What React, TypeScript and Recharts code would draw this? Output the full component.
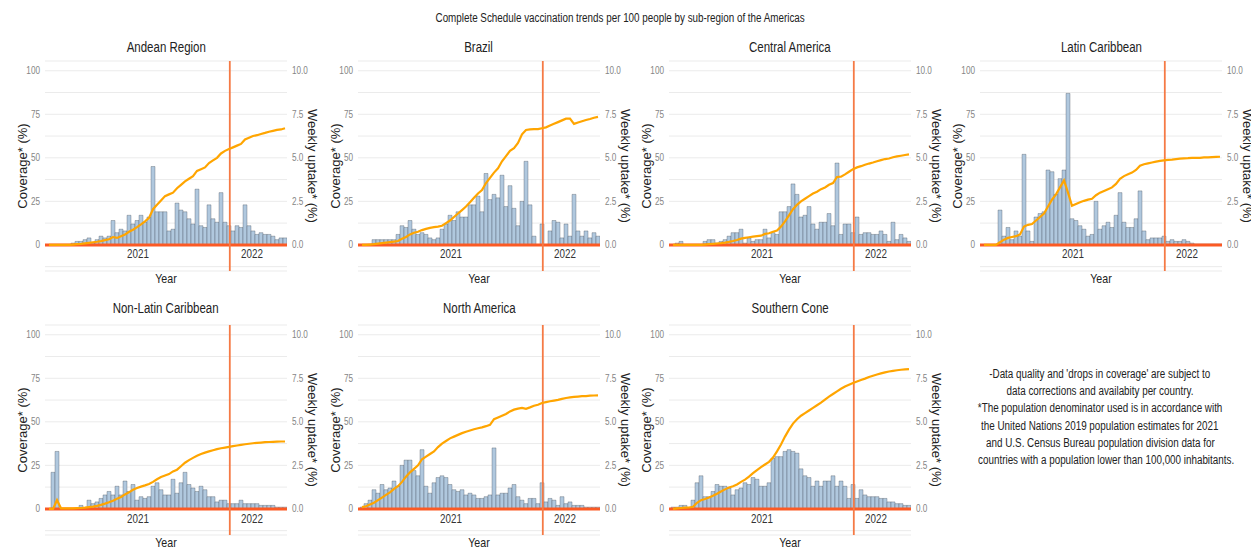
import React from 'react';
import { ComposedChart, Bar, Line, XAxis, YAxis, CartesianGrid, ReferenceLine, Label } from 'recharts';

// ---------- data (weekly index 0..59) ----------
const ANDEAN_UPTAKE = [0,0,0,0,0,0,0.1,0.2,0.2,0.3, 0.4,0.1,0.3,0.5,0.4,0.5,1.4,0.7,0.9,0.8, 1.7,1.2,1.4,1.7,1.3,1.6,4.5,1.9,1.9,1.9, 0.8,0.9,2.4,2.0,1.9,1.5,1.2,3.2,1.1,1.0, 2.3,1.5,1.3,3.0,1.3,1.1,0.8,1.1,1.0,2.3, 1.1,0.8,0.6,0.7,0.6,0.6,0.5,0.3,0.4,0.4];
const ANDEAN_COVERAGE = [0,0,0,0,0,0,0.2,0.4,0.6,0.9, 1.2,1.5,1.8,2.2,2.7,3.2,4.5,4.0,5.0,6.0, 7.5,8.7,10.2,11.8,13.5,15.5,20.5,23,25.5,28, 29,30,32.5,34.5,36.5,38,39.5,42.5,43.5,44.5, 47,48.5,50,52.5,54,55,56,57,58,60.5, 61.5,62.5,63,63.7,64.3,65,65.5,66,66.3,67];

const BRAZIL_UPTAKE = [0,0,0,0.3,0.3,0.3,0.3,0.3,0.3,0.6, 1.1,1.0,1.4,0.9,0.6,0.7,0.6,0.4,0.3,0.4, 0.9,1.2,1.7,1.4,1.9,1.6,1.6,2.3,2.3,2.8, 1.9,4.1,2.6,2.9,2.7,4.0,2.2,3.4,2.1,1.1, 2.5,4.8,2.3,0.5,0,1.2,0,0.8,1.4,1.3, 0.4,1.2,0.5,2.9,0.8,0.5,0.8,0.4,0.7,0.5];
const BRAZIL_COVERAGE = [0,0,0.2,0.4,0.7,1.0,1.3,1.6,1.9,2.2, 3.5,4.5,6,7,7.5,8.5,9.2,9.8,10.2,10.5, 11,12.5,14,16,18,20,22,24.5,27,29.5, 31.5,35.5,38.5,41.5,44,48,51,54,55.5,58.5, 63.5,66,66.3,66.5,66.5,67,67.5,68.5,69.5,70.5, 71.5,72.5,72.5,69.5,70.3,71,71.7,72.3,73,73.5];

const CENTRAL_UPTAKE = [0,0.1,0.2,0,0,0,0,0,0.2,0.3, 0.3,0.1,0.2,0.3,0.5,0.7,0.7,0.9,0.1,0.4, 0.2,0.3,0.3,0.9,0.4,0.7,0.6,1.9,1.9,2.2, 3.5,2.9,1.6,1.7,2.2,1.2,0.9,1.3,1.3,1.8, 1.1,4.7,0.6,1.2,1.2,0.7,1.6,0.6,0.7,0.7, 0.6,0.6,0.8,0.6,0.2,1.3,0.3,0.6,0.4,0.2];
const CENTRAL_COVERAGE = [0,0,0,0,0,0,0,0,0.2,0.4, 0.6,0.8,1.0,1.3,1.7,2.2,2.8,3.6,4.0,4.4, 4.7,5.0,5.3,6.3,6.7,7.5,8.3,10.5,13.5,17, 20.5,23,25,26.5,28,29.5,30.5,32,33,34.5, 35.5,39,39.2,40.5,42,43.5,44.5,45.2,46,46.7, 47.3,48,48.7,49.3,49.6,50.3,50.8,51.2,51.6,52];

const LATIN_UPTAKE = [0,0,0,0,2.0,0.5,1.0,0.3,0.8,0.5, 5.2,0.8,0.2,1.6,1.8,1.9,4.3,4.2,2.9,3.8, 4.3,8.7,1.5,1.4,1.1,0.9,0.5,0.6,2.5,0.9, 1.1,1.3,1.0,1.7,3.0,1.3,1.0,1.0,1.5,3.1, 0.8,0.3,0.4,0.4,0.4,0.5,0.2,0.3,0.2,0.2, 0.3,0.2,0.1,0.05,0.05,0.05,0.05,0.05,0.05,0.05];
const LATIN_COVERAGE = [0,0,0,0,1.5,3,4,4.5,5,6, 10.5,11.5,12,14,16,18,22,26,29,33, 37,30,22.5,23.5,24.5,25.3,26,26.5,28.5,30, 31,32,33,35,38,39.5,40.5,41.5,43,45.5, 46.3,46.8,47.3,47.8,48.2,48.5,48.8,49,49.3,49.5, 49.7,49.8,50,50,50,50.2,50.3,50.4,50.5,50.6];

const NONLATIN_UPTAKE = [0,2.1,3.3,0,0,0,0,0,0.2,0, 0.5,0.3,0.4,0.6,0.8,1.0,0.8,1.3,0.8,1.6, 1.0,1.4,0.5,0.7,0.6,0.7,1.3,1.5,1.1,0.8, 0.8,1.7,0.9,1.5,2.1,1.4,1.2,1.0,1.3,1.1, 0.7,0.7,0.4,0.5,0.5,0.3,0.3,0.3,0.5,0.3, 0.3,0.3,0.3,0.2,0.2,0.2,0.2,0.1,0.1,0.1];
const NONLATIN_COVERAGE = [0,0,5,0.3,0.3,0.3,0.3,0.4,0.5,0.7, 1.0,1.3,1.7,2.3,3.0,3.8,4.7,5.8,6.8,8.3, 9.5,11,12,12.8,13.5,14.3,15.5,17,18.3,19.2, 20,21.5,22.5,24.5,26.5,28,29.3,30.5,31.5,32.3, 33,33.7,34.3,34.8,35.2,35.6,36,36.4,36.8,37.1, 37.4,37.7,37.9,38.1,38.3,38.4,38.5,38.6,38.7,38.7];

const NORTH_UPTAKE = [0.1,0.3,0.5,1.1,0.9,1.4,1.1,1.2,1.6,1.3, 2.5,2.8,2.8,2.2,1.9,3.4,1.3,0.9,1.5,1.8, 1.9,1.8,1.4,1.1,1.0,1.1,0.8,0.9,0.8,0.6, 0.6,0.7,0.8,3.5,0.8,0.9,0.9,1.2,1.4,0.7, 0.5,0.3,0.6,0.6,0.3,1.5,0.4,0.6,0.5,0.2, 0.7,0.3,0.4,0.2,0.2,0.2,0.1,0.1,0.1,0.1];
const NORTH_COVERAGE = [1,1.5,2.5,3.5,5,6.5,8,9.5,11.5,13, 15.5,18.5,21,23,25,28.5,30,31.5,33,35.5, 37.5,39,40.5,41.5,42.5,43.5,44.3,45,45.7,46.3, 46.8,47.5,48.3,51.5,52.5,53.5,54.5,56,57,57.6, 58,57.5,58.3,59.2,59.8,60.8,61.3,61.8,62.2,62.6, 63.2,63.7,64,64.3,64.5,64.7,64.8,65,65.1,65.2];

const SOUTH_UPTAKE = [0.1,0.1,0.2,0.2,0,0.5,1.5,1.9,0.7,0.7, 1.0,1.4,1.3,1.3,1.2,0.8,1.1,1.2,1.5,1.4, 1.8,1.7,1.3,1.3,1.5,2.9,3.0,3.0,3.3,3.4, 3.3,3.2,2.3,1.9,1.8,1.3,1.6,1.3,1.6,1.6, 1.9,1.3,1.6,1.3,0.6,1.4,0.6,1.1,0.8,0.7, 0.7,0.7,0.6,0.6,0.4,0.4,0.3,0.3,0.2,0.2];
const SOUTH_COVERAGE = [0,0.3,0.5,0.7,0.8,1.2,3.5,5,5.7,6.5, 7.5,8.7,10,11.2,12.3,13,14,15.5,16.8,18.5, 20.5,22.3,24,25.5,27,29.5,33,37,41.5,45.5, 49,51.5,53.5,55,56.5,58,59.5,61,62.8,64.5, 66,67.5,69,70.3,71.3,72.3,73.2,74,74.8,75.7, 76.5,77.2,77.8,78.4,78.9,79.3,79.6,79.9,80.1,80.3];

const REGIONS = ['Andean Region', 'Brazil', 'Central America', 'Latin Caribbean', 'Non-Latin Caribbean', 'North America', 'Southern Cone'];
const UPTAKE = [ANDEAN_UPTAKE, BRAZIL_UPTAKE, CENTRAL_UPTAKE, LATIN_UPTAKE, NONLATIN_UPTAKE, NORTH_UPTAKE, SOUTH_UPTAKE];
const COVERAGE = [ANDEAN_COVERAGE, BRAZIL_COVERAGE, CENTRAL_COVERAGE, LATIN_COVERAGE, NONLATIN_COVERAGE, NORTH_COVERAGE, SOUTH_COVERAGE];

const YEAR_TICKS = [22.25, 50.75];
const YEAR_LABELS = ['2021', '2022'];
const CUTOFF_WEEK = 45.2;
const COVERAGE_TICKS = [-12.5, 0, 12.5, 25, 37.5, 50, 62.5, 75, 87.5, 100];
const COVERAGE_LABELED = [0, 25, 50, 75, 100];
const UPTAKE_TICKS = [0, 2.5, 5, 7.5, 10];

const TITLE = 'Complete Schedule vaccination trends per 100 people by sub-region of the Americas';
const NOTE_LINES = [
  "-Data quality and 'drops in coverage' are subject to",
  'data corrections and availabity per country.',
  '*The population denominator used is in accordance with',
  'the United Nations 2019 population estimates for 2021',
  'and U.S. Census Bureau population division data for',
  'countries with a population lower than 100,000 inhabitants.',
];

// ---------- layout ----------
const FONT = "'Liberation Sans', Arial, sans-serif";
const NARROW_X = 0.82;
const COL_LEFT = [45, 358, 669, 980];
const ROW_TOP = [61, 325];
const TITLE_Y = [47, 308];
const PLOT_W = 242;
const PLOT_H = 210;
const LEFT_AXIS_W = 37;
const RIGHT_AXIS_W = 42;
const M_LEFT = 8;
const M_TOP = 5;
const X_AXIS_H = 30;

function NarrowSvgText({ x, y, anchor, size, fill, children }: any) {
  return (
    <g transform={`translate(${x},${y}) scale(${NARROW_X},1)`}>
      <text x={0} y={0} textAnchor={anchor} dominantBaseline="central" fontSize={size} fill={fill} fontFamily={FONT}>{children}</text>
    </g>
  );
}

function NarrowHtml({ children, size, lineHeight }: any) {
  return (
    <div style={{ textAlign: 'center', whiteSpace: 'nowrap', fontSize: size, lineHeight, height: lineHeight }}>
      <span style={{ display: 'inline-block', transform: `scaleX(${NARROW_X})`, verticalAlign: 'top' }}>{children}</span>
    </div>
  );
}

function Panel({ idx }: { idx: number }) {
  const col = idx % 4;
  const row = Math.floor(idx / 4);
  const up = UPTAKE[idx];
  const cov = COVERAGE[idx];
  const data = up.map((u, i) => ({ week: i, uptake: u, coverage: cov[i] }));
  const chartLeft = COL_LEFT[col] - M_LEFT - LEFT_AXIS_W;
  const chartTop = ROW_TOP[row] - M_TOP;
  const width = M_LEFT + LEFT_AXIS_W + PLOT_W + RIGHT_AXIS_W;
  const height = M_TOP + PLOT_H + X_AXIS_H;
  const tickShift = row === 0 ? -25 : -24;

  const YearTick = (p: any) => {
    const k = YEAR_TICKS.indexOf(p.payload.value);
    return <NarrowSvgText x={p.x} y={p.y + tickShift} anchor="middle" size={12} fill="#333">{YEAR_LABELS[k]}</NarrowSvgText>;
  };
  const CovTick = (p: any) => {
    const v = p.payload.value;
    if (!COVERAGE_LABELED.includes(v)) return <g />;
    return <NarrowSvgText x={p.x} y={p.y} anchor="end" size={10} fill="#858585">{String(v)}</NarrowSvgText>;
  };
  const UpTick = (p: any) => (
    <NarrowSvgText x={p.x} y={p.y} anchor="start" size={10} fill="#858585">{Number(p.payload.value).toFixed(1)}</NarrowSvgText>
  );

  return (
    <div style={{ position: 'absolute', left: chartLeft, top: chartTop, width, height }}>
      <div style={{ position: 'absolute', left: M_LEFT + LEFT_AXIS_W, top: TITLE_Y[row] - 8 - chartTop, width: PLOT_W, color: '#222' }}>
        <NarrowHtml size={14} lineHeight="16px">{REGIONS[idx]}</NarrowHtml>
      </div>
      <ComposedChart width={width} height={height} data={data} margin={{ top: M_TOP, right: 0, bottom: 0, left: M_LEFT }} barCategoryGap={0} barGap={0}>
        <CartesianGrid yAxisId="cov" vertical={false} stroke="#ebebeb" strokeWidth={1} />
        <XAxis dataKey="week" type="number" domain={[-1, 59.5]} allowDataOverflow ticks={YEAR_TICKS} tick={YearTick} axisLine={false} tickLine={false} height={X_AXIS_H} interval={0}>
          <Label content={(p: any) => {
            const vb = p.viewBox;
            return <NarrowSvgText x={vb.x + vb.width / 2} y={vb.y + 8} anchor="middle" size={13} fill="#222">Year</NarrowSvgText>;
          }} />
        </XAxis>
        <YAxis yAxisId="cov" orientation="left" width={LEFT_AXIS_W} domain={[-15, 105.6]} allowDataOverflow ticks={COVERAGE_TICKS} interval={0}
          tick={CovTick} axisLine={false} tickLine={false} tickSize={3} tickMargin={2}>
          <Label content={(p: any) => {
            const vb = p.viewBox;
            const cx = vb.x + 14;
            const cy = vb.y + vb.height / 2;
            return <text x={cx} y={cy} transform={`rotate(-90, ${cx}, ${cy})`} textAnchor="middle" dominantBaseline="central" fontSize={13} fill="#222" fontFamily={FONT}>Coverage* (%)</text>;
          }} />
        </YAxis>
        <YAxis yAxisId="up" orientation="right" width={RIGHT_AXIS_W} domain={[-1.5, 10.56]} allowDataOverflow ticks={UPTAKE_TICKS} interval={0}
          tick={UpTick} axisLine={false} tickLine={false} tickSize={3} tickMargin={2}>
          <Label content={(p: any) => {
            const vb = p.viewBox;
            const cx = vb.x + 25;
            const cy = vb.y + vb.height / 2;
            return <text x={cx} y={cy} transform={`rotate(90, ${cx}, ${cy})`} textAnchor="middle" dominantBaseline="central" fontSize={13} fill="#222" fontFamily={FONT}>Weekly uptake* (%)</text>;
          }} />
        </YAxis>
        <Bar yAxisId="up" dataKey="uptake" fill="#b0c8de" stroke="#3c4650" strokeOpacity={0.55} strokeWidth={0.6} isAnimationActive={false} />
        <ReferenceLine yAxisId="cov" y={0} stroke="#fb5a24" strokeWidth={3} />
        <ReferenceLine yAxisId="cov" x={CUTOFF_WEEK} stroke="#f57a45" strokeWidth={1.8} />
        <Line yAxisId="cov" dataKey="coverage" type="linear" stroke="#ffa500" strokeWidth={2.2} dot={false} activeDot={false} isAnimationActive={false} />
      </ComposedChart>
    </div>
  );
}

export default function App() {
  return (
    <div style={{ position: 'absolute', left: 0, top: 0, width: 1251, height: 550, background: '#fff', overflow: 'hidden', fontFamily: FONT }}>
      <div style={{ position: 'absolute', left: 0, top: 10, width: 1240, color: '#222' }}>
        <NarrowHtml size={12} lineHeight="16px">{TITLE}</NarrowHtml>
      </div>
      {REGIONS.map((_, i) => <Panel key={i} idx={i} />)}
      <div style={{ position: 'absolute', left: 950, top: 366, width: 300, color: '#222' }}>
        {NOTE_LINES.map((l, i) => <NarrowHtml key={i} size={12} lineHeight="17.2px">{l}</NarrowHtml>)}
      </div>
    </div>
  );
}
